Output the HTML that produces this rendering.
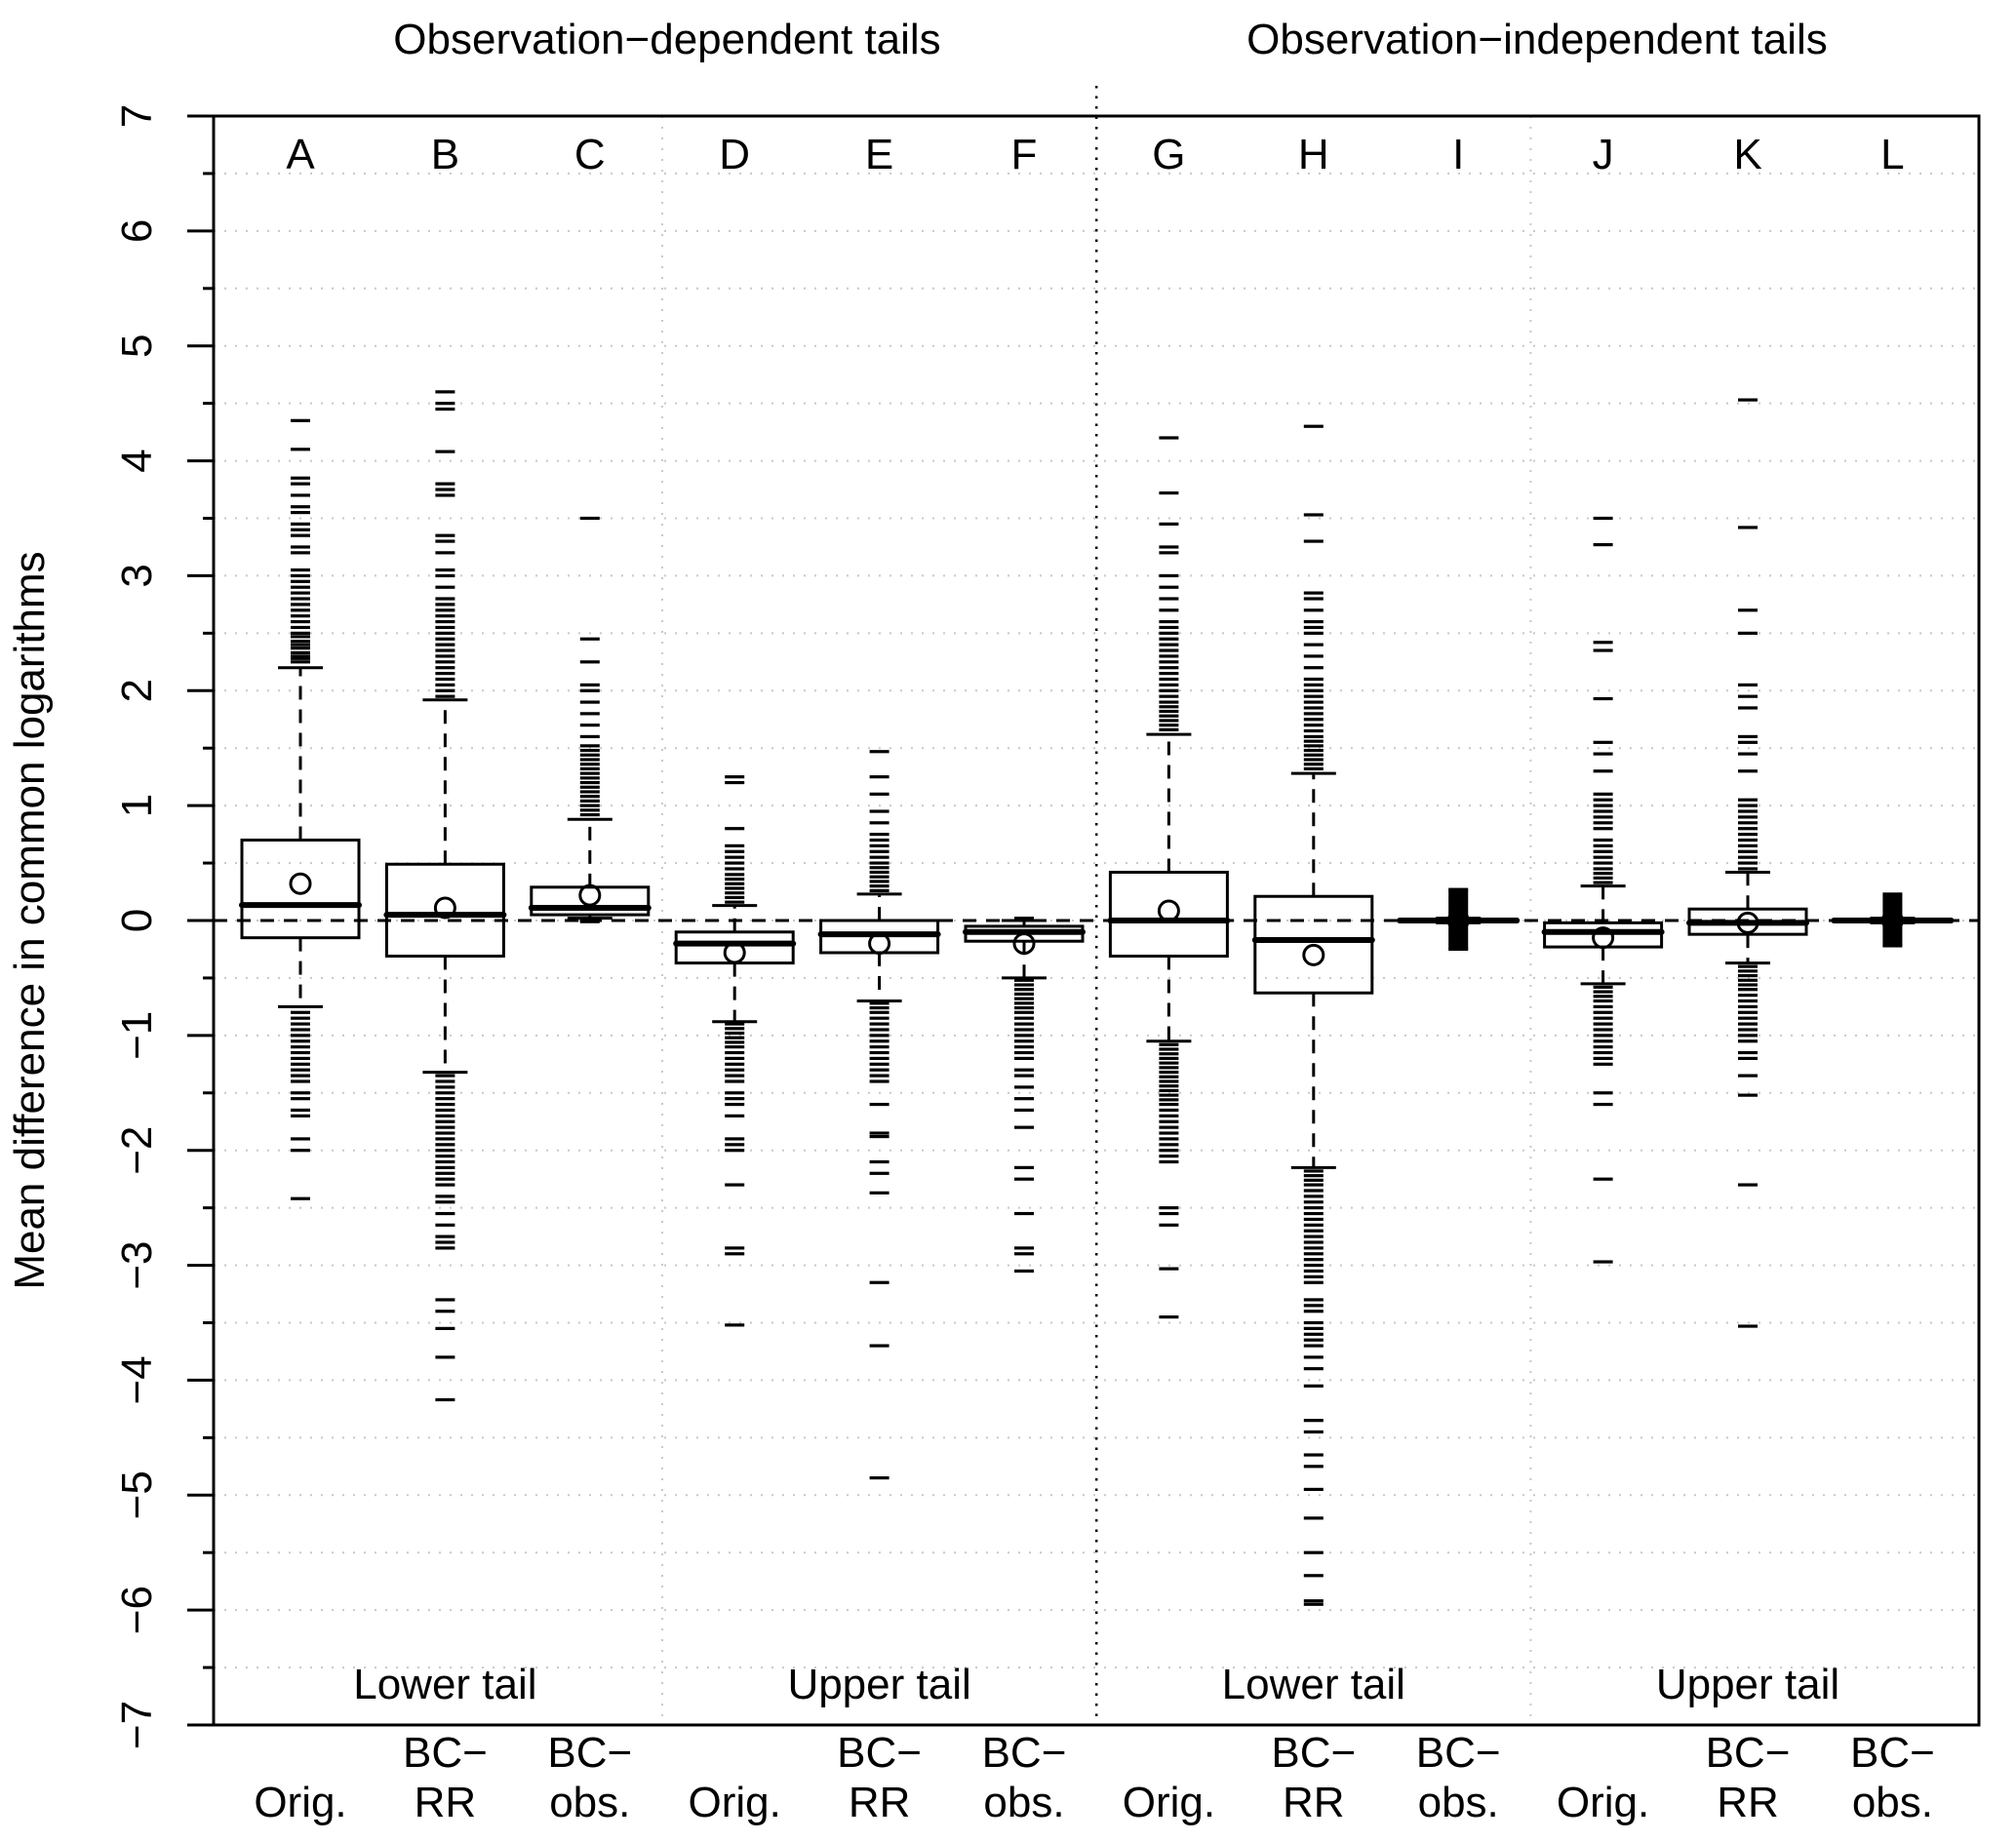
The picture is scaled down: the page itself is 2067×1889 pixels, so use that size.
<!DOCTYPE html>
<html><head><meta charset="utf-8"><style>
html,body{margin:0;padding:0;background:#fff;}
svg{display:block;}
text{font-family:"Liberation Sans",sans-serif;fill:#000;}
</style></head><body>
<svg id="chart" width="2067" height="1889" viewBox="0 0 2067 1889" xmlns="http://www.w3.org/2000/svg">
<text x="684" y="55" font-size="44" text-anchor="middle">Observation−dependent tails</text>
<text x="1576" y="55" font-size="44" text-anchor="middle">Observation−independent tails</text>
<text transform="translate(45,944) rotate(-90)" font-size="44" text-anchor="middle">Mean difference in common logarithms</text>
<g id="grid"></g>
<g id="marks"></g>
<g id="axes"></g>
</svg>
<script>
const categories = ["A","B","C","D","E","F","G","H","I","J","K","L"];
const methodTop = ["","BC−","BC−","","BC−","BC−","","BC−","BC−","","BC−","BC−"];
const methodBottom = ["Orig.","RR","obs.","Orig.","RR","obs.","Orig.","RR","obs.","Orig.","RR","obs."];
const q1 = [-0.15,-0.31,0.05,-0.37,-0.28,-0.18,-0.31,-0.63,-0.01,-0.23,-0.12,-0.01];
const q3 = [0.70,0.49,0.29,-0.10,0.00,-0.05,0.42,0.21,0.01,-0.02,0.10,0.01];
const medians = [0.135,0.05,0.11,-0.20,-0.12,-0.10,0.00,-0.17,0.00,-0.10,-0.02,0.00];
const means = [0.32,0.11,0.22,-0.28,-0.20,-0.20,0.085,-0.30,0.00,-0.15,-0.02,0.00];
const whiskHigh = [2.20,1.92,0.88,0.13,0.23,0.00,1.62,1.28,0.02,0.30,0.42,0.02];
const whiskLow = [-0.75,-1.32,0.02,-0.88,-0.70,-0.50,-1.05,-2.15,-0.02,-0.55,-0.37,-0.02];
const outA = [2.25,2.28,2.3,2.33,2.37,2.4,2.43,2.47,2.5,2.55,2.6,2.65,2.7,2.75,2.8,2.85,2.9,2.95,3.0,3.05,3.2,3.25,3.35,3.4,3.45,3.55,3.6,3.7,3.8,3.85,4.1,4.35,-0.8,-0.85,-0.9,-0.95,-1.0,-1.05,-1.1,-1.15,-1.2,-1.25,-1.3,-1.35,-1.4,-1.5,-1.55,-1.65,-1.7,-1.9,-2.0,-2.42];
const outB = [1.95,2.0,2.05,2.1,2.15,2.2,2.25,2.3,2.35,2.4,2.45,2.5,2.55,2.6,2.65,2.7,2.75,2.8,2.9,3.0,3.05,3.2,3.3,3.35,3.7,3.75,3.8,4.08,4.45,4.5,4.6,-1.35,-1.4,-1.45,-1.5,-1.55,-1.6,-1.65,-1.7,-1.75,-1.8,-1.85,-1.9,-1.95,-2.0,-2.05,-2.1,-2.15,-2.2,-2.25,-2.3,-2.4,-2.45,-2.55,-2.65,-2.75,-2.8,-2.85,-3.3,-3.4,-3.55,-3.8,-4.17];
const outC = [0.92,0.96,1.0,1.04,1.08,1.12,1.16,1.2,1.24,1.28,1.32,1.36,1.4,1.44,1.48,1.52,1.6,1.7,1.8,1.9,2.0,2.05,2.25,2.45,3.5,0.0,0.01,-0.01];
const outD = [0.16,0.2,0.24,0.28,0.32,0.36,0.4,0.45,0.5,0.55,0.6,0.65,0.8,1.2,1.25,-0.9,-0.94,-0.98,-1.02,-1.06,-1.1,-1.15,-1.2,-1.25,-1.3,-1.35,-1.4,-1.5,-1.55,-1.6,-1.7,-1.9,-1.95,-2.0,-2.3,-2.85,-2.9,-3.52];
const outE = [0.26,0.3,0.34,0.38,0.42,0.46,0.5,0.55,0.6,0.65,0.7,0.75,0.85,0.95,1.1,1.25,1.47,-0.72,-0.76,-0.8,-0.85,-0.9,-0.95,-1.0,-1.05,-1.1,-1.15,-1.2,-1.25,-1.3,-1.35,-1.4,-1.6,-1.85,-1.88,-2.1,-2.2,-2.37,-3.15,-3.7,-4.85];
const outF = [0.02,-0.52,-0.56,-0.6,-0.64,-0.68,-0.72,-0.76,-0.8,-0.85,-0.9,-0.95,-1.0,-1.05,-1.1,-1.15,-1.2,-1.3,-1.35,-1.45,-1.55,-1.65,-1.8,-2.15,-2.25,-2.55,-2.85,-2.9,-3.05];
const outG = [1.66,1.7,1.74,1.78,1.82,1.86,1.9,1.95,2.0,2.05,2.1,2.15,2.2,2.25,2.3,2.35,2.4,2.45,2.5,2.55,2.6,2.7,2.8,2.9,3.0,3.2,3.25,3.45,3.72,4.2,-1.08,-1.12,-1.16,-1.2,-1.24,-1.28,-1.32,-1.36,-1.4,-1.44,-1.48,-1.52,-1.56,-1.6,-1.65,-1.7,-1.75,-1.8,-1.85,-1.9,-1.95,-2.0,-2.05,-2.1,-2.5,-2.55,-2.65,-3.03,-3.45];
const outH = [1.32,1.36,1.4,1.44,1.48,1.52,1.56,1.6,1.65,1.7,1.75,1.8,1.85,1.9,1.95,2.0,2.05,2.1,2.2,2.3,2.4,2.5,2.55,2.6,2.7,2.8,2.85,3.3,3.53,4.3,-2.18,-2.22,-2.26,-2.3,-2.35,-2.4,-2.45,-2.5,-2.55,-2.6,-2.65,-2.7,-2.75,-2.8,-2.85,-2.9,-2.95,-3.0,-3.05,-3.1,-3.15,-3.3,-3.35,-3.4,-3.5,-3.55,-3.6,-3.65,-3.7,-3.8,-3.9,-4.05,-4.35,-4.45,-4.65,-4.75,-4.95,-5.2,-5.5,-5.7,-5.92,-5.95];
const outI = [0.04,0.06,0.08,0.1,0.12,0.14,0.16,0.18,0.2,0.22,0.24,0.26,0.27,-0.04,-0.06,-0.08,-0.1,-0.12,-0.14,-0.16,-0.18,-0.2,-0.22,-0.24,-0.25];
const outJ = [0.33,0.37,0.41,0.45,0.5,0.55,0.6,0.65,0.7,0.8,0.85,0.9,0.95,1.0,1.05,1.1,1.3,1.45,1.55,1.93,2.35,2.42,3.27,3.5,-0.58,-0.62,-0.66,-0.7,-0.75,-0.8,-0.85,-0.9,-0.95,-1.0,-1.05,-1.1,-1.15,-1.2,-1.25,-1.5,-1.6,-2.25,-2.97];
const outK = [0.45,0.5,0.55,0.6,0.65,0.7,0.75,0.8,0.85,0.9,0.95,1.0,1.05,1.3,1.45,1.55,1.6,1.85,1.95,2.05,2.5,2.7,3.42,4.53,-0.4,-0.44,-0.48,-0.52,-0.56,-0.6,-0.65,-0.7,-0.75,-0.8,-0.85,-0.9,-0.95,-1.0,-1.05,-1.15,-1.2,-1.35,-1.52,-2.3,-3.53];
const outL = [0.03,0.05,0.07,0.09,0.11,0.13,0.15,0.17,0.19,0.21,0.23,-0.03,-0.05,-0.07,-0.09,-0.11,-0.13,-0.15,-0.17,-0.19,-0.21,-0.22];
const outliers = [outA,outB,outC,outD,outE,outF,outG,outH,outI,outJ,outK,outL];
const yTicks = [7,6,5,4,3,2,1,0,-1,-2,-3,-4,-5,-6,-7];
const groupLabels = ["Lower tail","Upper tail","Lower tail","Upper tail"];

const NS = "http://www.w3.org/2000/svg";
const L = 219, R = 2029, T = 119, B = 1769;
const yMin = -7, yMax = 7;
function yS(v){ return T + (yMax - v) / (yMax - yMin) * (B - T); }
function xS(i){ return 308 + i * 148.4; }
function mk(parent, tag, attrs){ const e = document.createElementNS(NS, tag); for (const k in attrs) e.setAttribute(k, attrs[k]); parent.appendChild(e); return e; }
const grid = document.getElementById('grid'), marks = document.getElementById('marks'), axes = document.getElementById('axes');

for (let v = yMin + 0.5; v < yMax; v += 0.5) {
  const g = mk(grid, 'line', {x1:L, x2:R, y1:yS(v), y2:yS(v), stroke:'#c8c8c8', 'stroke-width':2, 'stroke-dasharray':'2 9'});
  
  
}
[3,9].forEach(k => {
  const xx = (xS(k-1) + xS(k)) / 2;
  const s = mk(grid, 'line', {x1:xx, x2:xx, y1:T, y2:B, stroke:'#c8c8c8', 'stroke-width':2, 'stroke-dasharray':'2 9'});
  
  
});
{
  const xx = (xS(5) + xS(6)) / 2;
  const s = mk(grid, 'line', {x1:xx, x2:xx, y1:88, y2:B, stroke:'#000', 'stroke-width':2.5, 'stroke-dasharray':'2.5 8'});
  
  
}
{
  const z = mk(grid, 'line', {x1:L, x2:R, y1:yS(0), y2:yS(0), stroke:'#000', 'stroke-width':3, 'stroke-dasharray':'14 10'});
  
  
}

const BW = 120, CAP = 46, OW = 20;
categories.forEach((c, i) => {
  const x = xS(i);
  const g = mk(marks, 'g', {});
  
  
  mk(g, 'line', {x1:x, x2:x, y1:yS(q3[i]), y2:yS(whiskHigh[i]), stroke:'#000', 'stroke-width':3, 'stroke-dasharray':'14 10'});
  mk(g, 'line', {x1:x, x2:x, y1:yS(q1[i]), y2:yS(whiskLow[i]), stroke:'#000', 'stroke-width':3, 'stroke-dasharray':'14 10'});
  mk(g, 'line', {x1:x-CAP/2, x2:x+CAP/2, y1:yS(whiskHigh[i]), y2:yS(whiskHigh[i]), stroke:'#000', 'stroke-width':3});
  mk(g, 'line', {x1:x-CAP/2, x2:x+CAP/2, y1:yS(whiskLow[i]), y2:yS(whiskLow[i]), stroke:'#000', 'stroke-width':3});
  outliers[i].forEach(v => {
    const o = mk(g, 'rect', {x:x-OW/2, y:yS(v)-1.6, width:OW, height:3.2, fill:'#000'});
    
    
  });
  const top = yS(q3[i]), bot = yS(q1[i]);
  mk(g, 'rect', {x:x-BW/2, y:top, width:BW, height:Math.max(bot-top,0.5), fill:'#fff', 'fill-opacity':0.0, stroke:'#000', 'stroke-width':3});
  mk(g, 'line', {x1:x-BW/2, x2:x+BW/2, y1:yS(medians[i]), y2:yS(medians[i]), stroke:'#000', 'stroke-width':6, 'stroke-linecap':'round'});
  const m = mk(g, 'circle', {cx:x, cy:yS(means[i]), r:10, fill:'none', stroke:'#000', 'stroke-width':3});
  
  
  const t = mk(axes, 'text', {x:x, y:173, 'font-size':44, 'text-anchor':'middle'});
  t.textContent = c;
  
  
  if (methodTop[i]) {
    const a = mk(axes, 'text', {x:x, y:1812, 'font-size':44, 'text-anchor':'middle'});
    a.textContent = methodTop[i];
    
    
  }
  const b = mk(axes, 'text', {x:x, y:1863, 'font-size':44, 'text-anchor':'middle'});
  b.textContent = methodBottom[i];
  
  
});
groupLabels.forEach((lab, k) => {
  const t = mk(axes, 'text', {x:xS(k*3+1), y:1742, 'font-size':44, 'text-anchor':'middle'});
  t.textContent = lab;
  
  
});
{
  const f = mk(axes, 'rect', {x:L, y:T, width:R-L, height:B-T, fill:'none', stroke:'#000', 'stroke-width':3});
  
  
}
yTicks.forEach(v => {
  mk(axes, 'line', {x1:192, x2:L, y1:yS(v), y2:yS(v), stroke:'#000', 'stroke-width':3});
  const t = mk(axes, 'text', {transform:`translate(155,${yS(v)}) rotate(-90)`, 'font-size':44, 'text-anchor':'middle'});
  t.textContent = v < 0 ? '−' + Math.abs(v) : String(v);
  
  
});
for (let k = 0; k < yTicks.length - 1; k++) {
  const v = (yTicks[k] + yTicks[k+1]) / 2;
  mk(axes, 'line', {x1:208, x2:L, y1:yS(v), y2:yS(v), stroke:'#000', 'stroke-width':3});
}
</script>
</body></html>
